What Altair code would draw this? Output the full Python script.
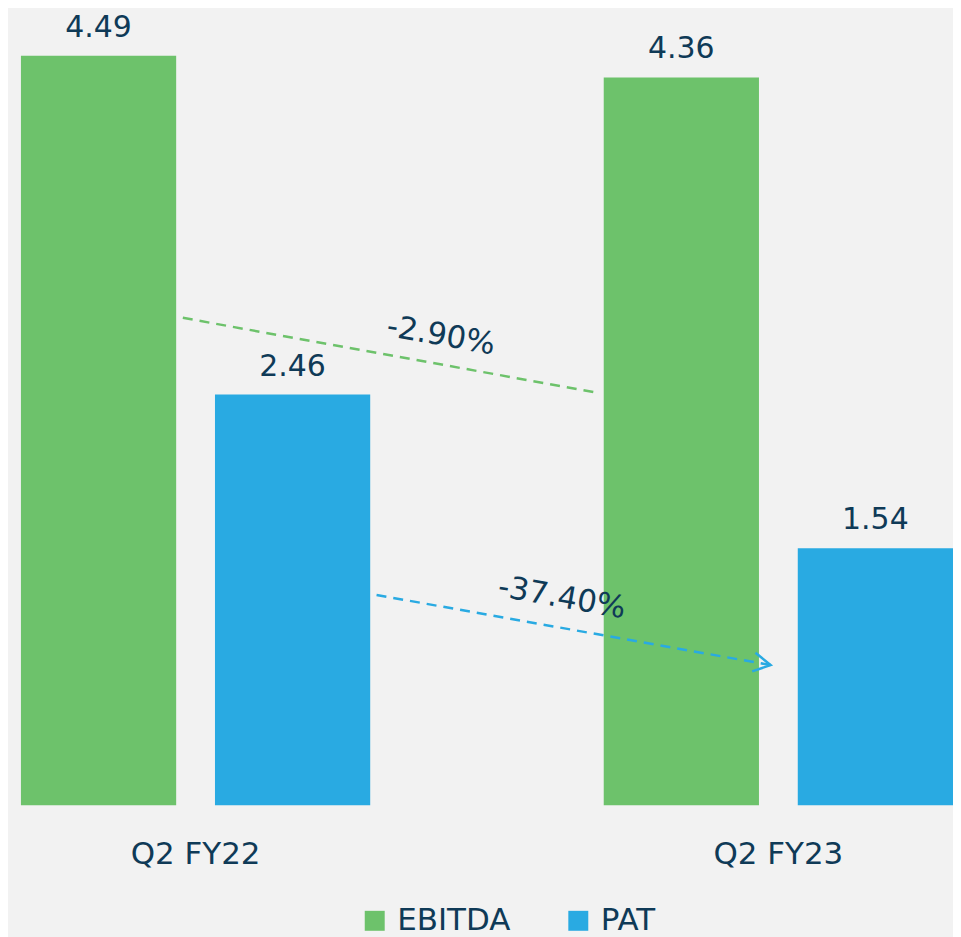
import altair as alt
import pandas as pd

# ---- data ----
periods = ["Q2 FY22", "Q2 FY23"]
metrics = ["EBITDA", "PAT"]
ebitda = [4.49, 4.36]
pat = [2.46, 1.54]
changes = ["-2.90%", "-37.40%"]

# annotation arrows: x as fraction of plot width, y in data units
arrow_metric = ["EBITDA", "EBITDA", "PAT", "PAT"]
arrow_order = [0, 1, 0, 1]
arrow_x = [0.185, 0.625, 0.390, 0.807]
arrow_y = [2.92, 2.47, 1.26, 0.84]

change_metric = ["EBITDA", "PAT"]
change_x = [0.458, 0.586]
change_y = [2.81, 1.24]

GREEN = "#6dc26b"
BLUE = "#29aae2"
TXT = "#0f3a57"
FONT = "DejaVu Sans"
YMAX = 4.77

rows = []
for i, p in enumerate(periods):
    rows.append({"period": p, "metric": "EBITDA", "value": ebitda[i], "label": f"{ebitda[i]:.2f}"})
    rows.append({"period": p, "metric": "PAT", "value": pat[i], "label": f"{pat[i]:.2f}"})
df = pd.DataFrame(rows)

arrows = pd.DataFrame({"metric": arrow_metric, "order": arrow_order, "x": arrow_x, "y": arrow_y})
chg = pd.DataFrame({"metric": change_metric, "x": change_x, "y": change_y, "text": changes})

band_scale = alt.Scale(paddingInner=0.4007, paddingOuter=0.0111, align=1)
off = alt.XOffset("metric:N", sort=metrics, scale=alt.Scale(paddingInner=0.2, paddingOuter=0))
yenc = alt.Y("value:Q", scale=alt.Scale(domain=[0, YMAX], nice=False, zero=True), axis=None)

bars = alt.Chart(df).mark_bar().encode(
    x=alt.X("period:N", sort=periods, scale=band_scale,
            axis=alt.Axis(title=None, labelAngle=0, domain=False, ticks=False,
                          labelFontSize=31, labelColor=TXT, labelFont=FONT,
                          labelPadding=34, grid=False)),
    xOffset=off,
    y=yenc,
    color=alt.Color("metric:N", scale=alt.Scale(domain=metrics, range=[GREEN, BLUE]),
                    legend=alt.Legend(title=None, orient="none", legendX=352, legendY=898,
                                      direction="horizontal", symbolType="square",
                                      symbolSize=400, symbolStrokeWidth=0,
                                      labelFontSize=31, labelFont=FONT, labelColor=TXT,
                                      labelOffset=7, columnPadding=52, padding=0)),
)

labels = alt.Chart(df).mark_text(dy=-19, baseline="alphabetic", fontSize=30,
                                 font=FONT, color=TXT).encode(
    x=alt.X("period:N", sort=periods, scale=band_scale, axis=None),
    xOffset=off,
    y=yenc,
    text="label:N",
)

xq = alt.X("x:Q", scale=alt.Scale(domain=[0, 1], nice=False, zero=False), axis=None)
yq = alt.Y("y:Q", scale=alt.Scale(domain=[0, YMAX], nice=False, zero=True), axis=None)

line_g = alt.Chart(arrows).transform_filter(alt.datum.metric == "EBITDA").mark_line(
    color=GREEN, strokeDash=[10, 7], strokeWidth=2.5).encode(x=xq, y=yq, order="order:O")
line_b = alt.Chart(arrows).transform_filter(alt.datum.metric == "PAT").mark_line(
    color=BLUE, strokeDash=[10, 7], strokeWidth=2.5).encode(x=xq, y=yq, order="order:O")
head = alt.Chart(arrows).transform_filter(
    (alt.datum.metric == "PAT") & (alt.datum.order == 1)).mark_point(
    shape="M-1.8,-1L0,0L-1.8,1", size=361, filled=False, strokeWidth=2.5,
    color=BLUE, angle=10, opacity=1).encode(x=xq, y=yq)
chg_text = alt.Chart(chg).mark_text(angle=10, fontSize=31, font=FONT, color=TXT,
                                    align="center", baseline="middle").encode(
    x=xq, y=yq, text="text:N")

chart = alt.layer(bars, labels, line_g, line_b, head, chg_text).resolve_scale(
    x="independent"
).properties(
    width=947, height=798,
    autosize=alt.AutoSizeParams(type="none"),
    padding={"left": 0, "top": 0, "right": 0, "bottom": 133},
    background="#f2f2f2",
).configure_view(stroke=None)

chart.save("out.html", embed_options={"renderer": "svg", "actions": False})
